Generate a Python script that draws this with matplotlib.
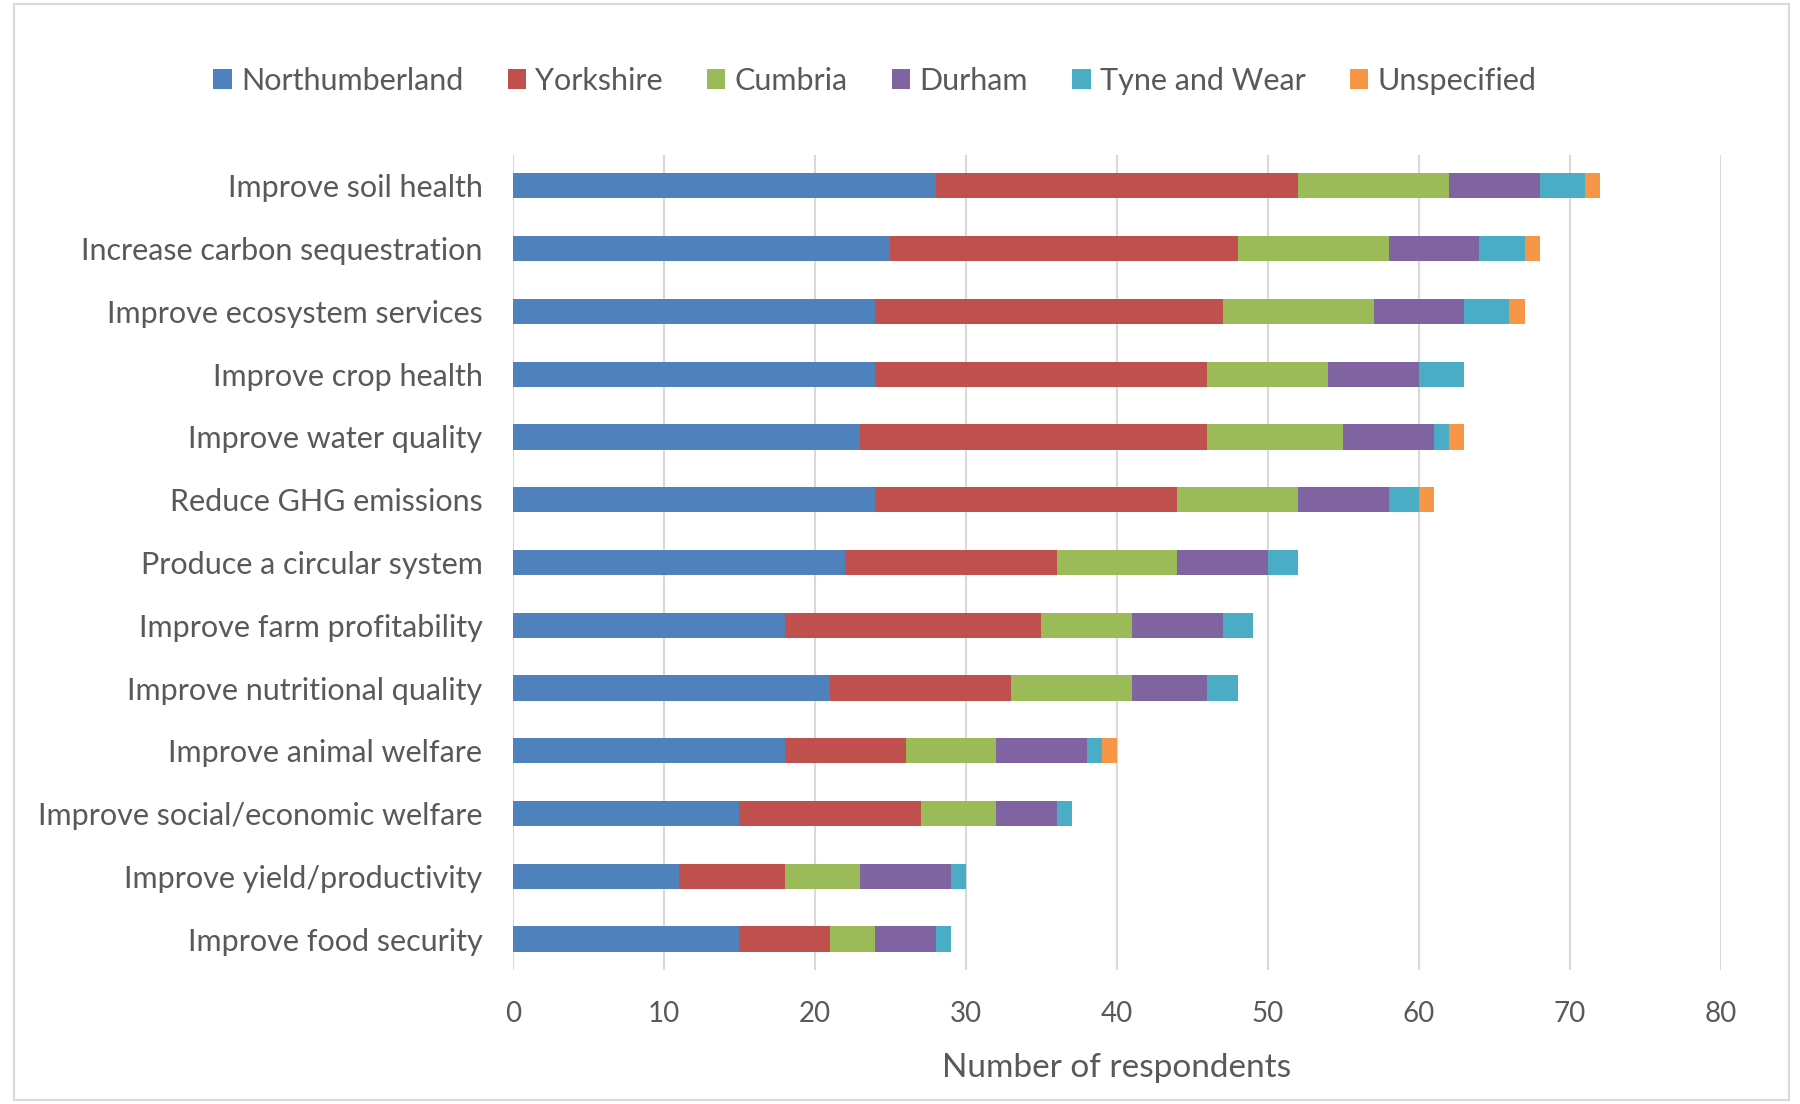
import numpy as np
import matplotlib
matplotlib.use("Agg")
import matplotlib.pyplot as plt
from matplotlib.patches import Rectangle

plt.rcParams['font.family'] = ['Lato', 'DejaVu Sans']

categories = [
    "Improve soil health",
    "Increase carbon sequestration",
    "Improve ecosystem services",
    "Improve crop health",
    "Improve water quality",
    "Reduce GHG emissions",
    "Produce a circular system",
    "Improve farm profitability",
    "Improve nutritional quality",
    "Improve animal welfare",
    "Improve social/economic welfare",
    "Improve yield/productivity",
    "Improve food security",
]
regions = ["Northumberland", "Yorkshire", "Cumbria", "Durham", "Tyne and Wear", "Unspecified"]

northumberland = [28, 25, 24, 24, 23, 24, 22, 18, 21, 18, 15, 11, 15]
yorkshire      = [24, 23, 23, 22, 23, 20, 14, 17, 12, 8, 12, 7, 6]
cumbria        = [10, 10, 10, 8, 9, 8, 8, 6, 8, 6, 5, 5, 3]
durham         = [6, 6, 6, 6, 6, 6, 6, 6, 5, 6, 4, 6, 4]
tyne_and_wear  = [3, 3, 3, 3, 1, 2, 2, 2, 2, 1, 1, 1, 1]
unspecified    = [1, 1, 1, 0, 1, 1, 0, 0, 0, 1, 0, 0, 0]

series = [northumberland, yorkshire, cumbria, durham, tyne_and_wear, unspecified]
colors = ["#4F81BD", "#C0504D", "#9BBB59", "#8064A2", "#4BACC6", "#F79646"]
text_col = "#595959"

fig = plt.figure(figsize=(18, 11.04), dpi=100)
ax = fig.add_axes([0.285, 0.121, 0.671, 0.739])

y = np.arange(len(categories))
left = np.zeros(len(categories))
for name, vals, c in zip(regions, series, colors):
    ax.barh(y, vals, left=left, height=0.4, color=c, label=name, zorder=3)
    left += np.array(vals)

ax.set_ylim(len(categories) - 0.5, -0.5)
ax.set_xlim(0, 80)
ax.set_xticks(range(0, 81, 10))
ax.set_yticks(y)
ax.set_yticklabels(categories)
ax.grid(axis="x", color="#d9d9d9", linewidth=1.5, zorder=0)
for s in ax.spines.values():
    s.set_visible(False)
ax.tick_params(axis="both", length=0, labelsize=20, colors=text_col)
ax.tick_params(axis="y", labelsize=22, pad=22)
ax.tick_params(axis="x", pad=22)
ax.set_xlabel("Number of respondents", fontsize=24, color=text_col, labelpad=19)

handles, labels = ax.get_legend_handles_labels()
fig.legend(handles, labels, loc="center", bbox_to_anchor=(0.486, 0.927), ncol=6,
           frameon=False, fontsize=22, labelcolor=text_col, handlelength=0.6,
           handleheight=0.6, handletextpad=0.3, columnspacing=1.45)

fig.patches.append(Rectangle((0.008, 0.004), 0.986, 0.992, transform=fig.transFigure,
                             fill=False, edgecolor="#d9d9d9", linewidth=1.5))

fig.savefig("out.png", dpi=100, facecolor="white")
